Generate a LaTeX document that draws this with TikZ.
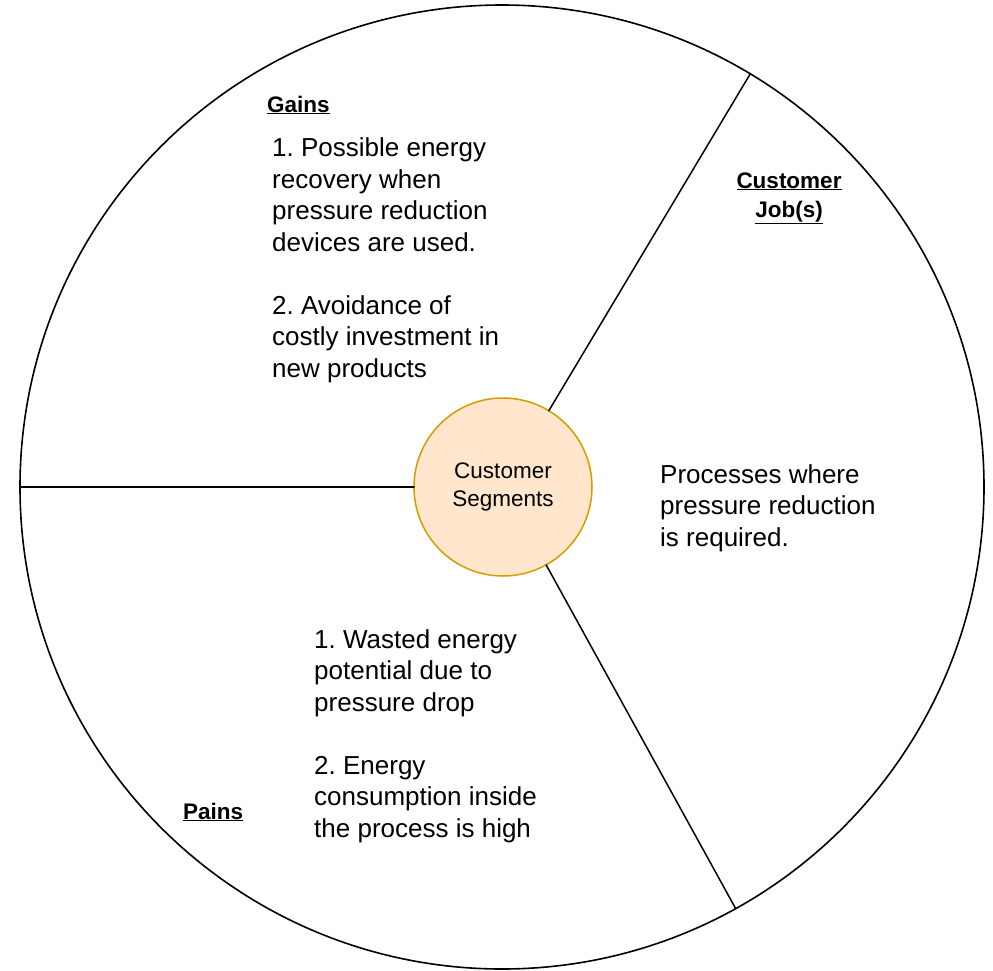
\documentclass[tikz,border=0pt]{standalone}
\usepackage{fontspec}
\setmainfont{Liberation Sans}
\frenchspacing
\definecolor{segfill}{HTML}{FFE6CC}
\definecolor{segline}{HTML}{D79B00}
\begin{document}
\begin{tikzpicture}[x=1pt, y=-1pt, line join=round, line cap=round,
		heading/.style={font=\fontsize{22.5}{29}\selectfont\bfseries, align=center, inner sep=0},
		body/.style={font=\fontsize{26}{31.5}\selectfont, align=left, anchor=base west, inner sep=0}]
	\useasboundingbox (0,0) rectangle (993,970);
	\node[circle, draw, line width=1.6, minimum size=964, inner sep=0, outer sep=0] (rim) at (502,487) {};
	\node[circle, draw=segline, fill=segfill, line width=1.5, minimum size=178, inner sep=0, outer sep=0,
		font=\fontsize{22.5}{28}\selectfont, align=center] (seg) at (503,487) {Customer\\Segments};
	\draw[line width=1.5] (seg.59.3) -- (rim.59.3);
	\draw[line width=1.5] (seg.180) -- (rim.180);
	\draw[line width=1.5] (seg.-61.1) -- (rim.-61.1);
	% section titles
	\node[heading, anchor=base west] (gains) at (267,112) {\underline{Gains}};
	\node[heading, anchor=base] (jobs) at (789,217) {\underline{Customer}\\\underline{Job(s)}};
	\node[heading, anchor=base west] (pains) at (183,819) {\underline{Pains}};
	% section texts (anchored at the last line)
	\node[body] (gainstext) at (272,377) {1. Possible energy\\recovery when\\pressure reduction\\devices are used.\\[31.5pt]2. Avoidance of\\costly investment in\\new products};
	\node[body] (jobstext) at (660,546) {Processes where\\pressure reduction\\is required.};
	\node[body] (painstext) at (314,837) {1. Wasted energy\\potential due to\\pressure drop\\[31.5pt]2. Energy\\consumption inside\\the process is high};
\end{tikzpicture}
\end{document}
